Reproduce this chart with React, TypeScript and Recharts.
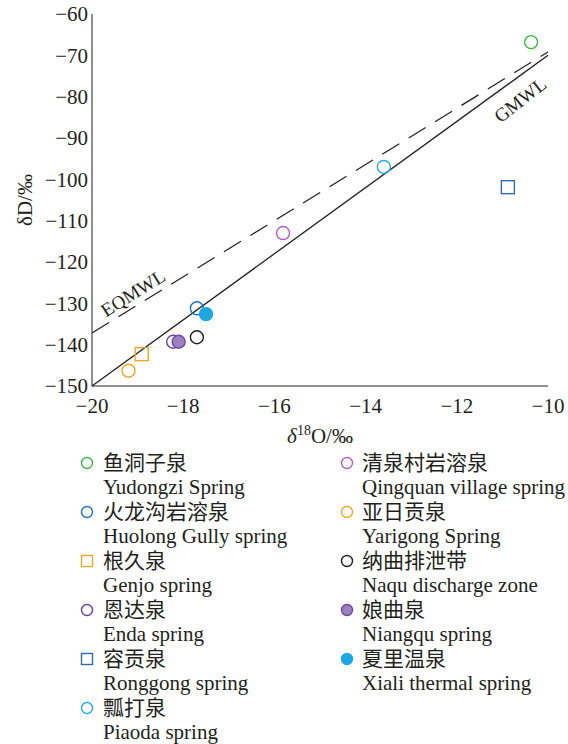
import {
  ScatterChart,
  Scatter,
  XAxis,
  YAxis,
  ReferenceLine,
  ReferenceDot,
} from "recharts"

const xTicks = [-20, -18, -16, -14, -12, -10]
const yTicks = [-150, -140, -130, -120, -110, -100, -90, -80, -70, -60]

// sample points
const yudongzi = [{ x: -10.37, y: -66.8 }]
const qingquan = [{ x: -15.81, y: -113.0 }]
const huolong = [{ x: -17.7, y: -131.2 }]
const yarigong = [{ x: -19.2, y: -146.3 }]
const genjo = [{ x: -18.91, y: -142.3 }]
const naqu = [{ x: -17.7, y: -138.2 }]
const enda = [{ x: -18.22, y: -139.3 }]
const niangqu = [{ x: -18.1, y: -139.3 }]
const ronggong = [{ x: -10.88, y: -101.9 }]
const xiali = [{ x: -17.5, y: -132.6 }]
const piaoda = [{ x: -13.6, y: -97.0 }]

// meteoric water lines
const gmwl = [{ x: -20, y: -150 }, { x: -10, y: -70 }]
const eqmwl = [{ x: -20, y: -137.2 }, { x: -10, y: -69.2 }]
const gmwlLabel = { x: -10.61, y: -80.8, text: "GMWL" }
const eqmwlLabel = { x: -19.1, y: -127.5, text: "EQMWL" }

const cnNames = {
  yudongzi: "鱼洞子泉",
  qingquan: "清泉村岩溶泉",
  huolong: "火龙沟岩溶泉",
  yarigong: "亚日贡泉",
  genjo: "根久泉",
  naqu: "纳曲排泄带",
  enda: "恩达泉",
  niangqu: "娘曲泉",
  ronggong: "容贡泉",
  xiali: "夏里温泉",
  piaoda: "瓢打泉",
}

const enNames = {
  yudongzi: "Yudongzi Spring",
  qingquan: "Qingquan village spring",
  huolong: "Huolong Gully spring",
  yarigong: "Yarigong Spring",
  genjo: "Genjo spring",
  naqu: "Naqu discharge zone",
  enda: "Enda spring",
  niangqu: "Niangqu spring",
  ronggong: "Ronggong spring",
  xiali: "Xiali thermal spring",
  piaoda: "Piaoda spring",
}

const leftColumn = ["yudongzi", "huolong", "genjo", "enda", "ronggong", "piaoda"]
const rightColumn = ["qingquan", "yarigong", "naqu", "niangqu", "xiali"]

type Kind = "circle" | "square"

const seriesStyle: Record<
  string,
  { data: { x: number; y: number }[]; stroke: string; fill: string; kind: Kind }
> = {
  yudongzi: { data: yudongzi, stroke: "#3db54a", fill: "none", kind: "circle" },
  qingquan: { data: qingquan, stroke: "#b05fbf", fill: "none", kind: "circle" },
  piaoda: { data: piaoda, stroke: "#27aae1", fill: "none", kind: "circle" },
  ronggong: { data: ronggong, stroke: "#2e6db4", fill: "none", kind: "square" },
  huolong: { data: huolong, stroke: "#1f6fbf", fill: "none", kind: "circle" },
  xiali: { data: xiali, stroke: "#1ea7e1", fill: "#1ea7e1", kind: "circle" },
  naqu: { data: naqu, stroke: "#231f20", fill: "none", kind: "circle" },
  enda: { data: enda, stroke: "#6b3fa0", fill: "none", kind: "circle" },
  niangqu: { data: niangqu, stroke: "#6b4aa0", fill: "#9c80c0", kind: "circle" },
  genjo: { data: genjo, stroke: "#f5a623", fill: "none", kind: "square" },
  yarigong: { data: yarigong, stroke: "#f5a623", fill: "none", kind: "circle" },
}

const drawOrder = [
  "yudongzi",
  "qingquan",
  "piaoda",
  "ronggong",
  "huolong",
  "xiali",
  "naqu",
  "enda",
  "niangqu",
  "genjo",
  "yarigong",
]

const serif = "'Liberation Serif', 'Times New Roman', 'Noto Sans CJK SC', serif"
const ink = "#231f20"

function Marker({
  cx,
  cy,
  r,
  kind,
  stroke,
  fill,
}: {
  cx: number
  cy: number
  r: number
  kind: Kind
  stroke: string
  fill: string
}) {
  if (kind === "square") {
    return (
      <rect
        x={cx - r}
        y={cy - r}
        width={r * 2}
        height={r * 2}
        fill={fill}
        stroke={stroke}
        strokeWidth={1.4}
      />
    )
  }
  return <circle cx={cx} cy={cy} r={r} fill={fill} stroke={stroke} strokeWidth={1.4} />
}

const fmt = (v: number) => String(v).replace("-", "\u2212")

function LegendBlock() {
  const row = (key: string, i: number, mx: number, tx: number) => {
    const s = seriesStyle[key]
    const y = 23 + i * 49
    return (
      <g key={key}>
        <Marker cx={mx} cy={y} r={5.5} kind={s.kind} stroke={s.stroke} fill={s.fill} />
        <text x={tx} y={y} dominantBaseline="central" fontSize={21} fill={ink}>
          {(cnNames as any)[key]}
        </text>
        <text x={tx} y={y + 24} dominantBaseline="central" fontSize={21} fill={ink}>
          {(enNames as any)[key]}
        </text>
      </g>
    )
  }
  return (
    <svg
      width={568}
      height={304}
      style={{ position: "absolute", left: 0, top: 440, fontFamily: serif }}
    >
      {leftColumn.map((k, i) => row(k, i, 87, 103))}
      {rightColumn.map((k, i) => row(k, i, 347, 362))}
    </svg>
  )
}

function App() {
  return (
    <div style={{ position: "absolute", left: 0, top: 0, width: 568, height: 744, background: "#fff" }}>
      <ScatterChart
        width={568}
        height={744}
        margin={{ top: 14, right: 20, bottom: 308, left: 32 }}
        style={{ fontFamily: serif }}
      >
        <XAxis
          type="number"
          dataKey="x"
          domain={[-20, -10]}
          ticks={xTicks}
          height={50}
          tickLine={false}
          tickSize={0}
          tickMargin={12}
          tickFormatter={fmt}
          stroke={ink}
          tick={{ fill: ink, fontSize: 21, fontFamily: serif }}
          label={(props: any) => {
            const vb = props.viewBox
            return (
              <text
                x={vb.x + vb.width / 2}
                y={vb.y + 57}
                textAnchor="middle"
                fontSize={21}
                fill={ink}
                fontFamily={serif}
              >
                <tspan fontStyle="italic">δ</tspan>
                <tspan fontSize={14} dy={-8}>18</tspan>
                <tspan dy={8}>O/‰</tspan>
              </text>
            )
          }}
        />
        <YAxis
          type="number"
          dataKey="y"
          domain={[-150, -60]}
          ticks={yTicks}
          width={60}
          tickLine={false}
          tickSize={0}
          tickMargin={4}
          tickFormatter={fmt}
          stroke={ink}
          tick={{ fill: ink, fontSize: 21, fontFamily: serif }}
          label={(props: any) => {
            const vb = props.viewBox
            const x = vb.x - 7
            const y = vb.y + vb.height / 2
            return (
              <text
                x={x}
                y={y}
                transform={`rotate(-90 ${x} ${y})`}
                textAnchor="middle"
                dominantBaseline="central"
                fontSize={21}
                fill={ink}
                fontFamily={serif}
              >
                δD/‰
              </text>
            )
          }}
        />
        <ReferenceLine
          segment={eqmwl}
          stroke={ink}
          strokeWidth={1.2}
          strokeDasharray="20 11"
          ifOverflow="visible"
        />
        <ReferenceLine segment={gmwl} stroke={ink} strokeWidth={1.3} ifOverflow="visible" />
        <ReferenceDot
          x={eqmwlLabel.x}
          y={eqmwlLabel.y}
          ifOverflow="visible"
          shape={(p: any) => (
            <text
              x={p.cx}
              y={p.cy}
              transform={`rotate(-32 ${p.cx} ${p.cy})`}
              textAnchor="middle"
              dominantBaseline="central"
              fontSize={19}
              fill={ink}
              fontFamily={serif}
            >
              {eqmwlLabel.text}
            </text>
          )}
        />
        <ReferenceDot
          x={gmwlLabel.x}
          y={gmwlLabel.y}
          ifOverflow="visible"
          shape={(p: any) => (
            <text
              x={p.cx}
              y={p.cy}
              transform={`rotate(-38 ${p.cx} ${p.cy})`}
              textAnchor="middle"
              dominantBaseline="central"
              fontSize={19}
              fill={ink}
              fontFamily={serif}
            >
              {gmwlLabel.text}
            </text>
          )}
        />
        {drawOrder.map((key) => {
          const s = seriesStyle[key]
          return (
            <Scatter
              key={key}
              name={(enNames as any)[key]}
              data={s.data}
              isAnimationActive={false}
              shape={(p: any) => (
                <Marker
                  cx={p.cx}
                  cy={p.cy}
                  r={6.5}
                  kind={s.kind}
                  stroke={s.stroke}
                  fill={s.fill}
                />
              )}
            />
          )
        })}
      </ScatterChart>
      <LegendBlock />
    </div>
  )
}

export default App
